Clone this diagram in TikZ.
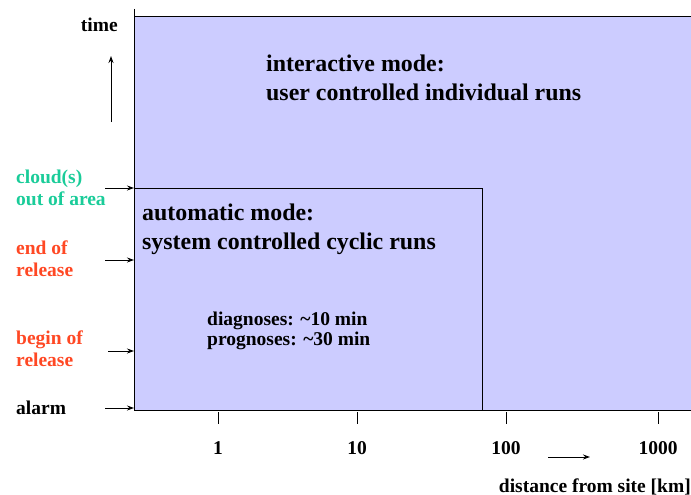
\documentclass[tikz,border=0pt]{standalone}
\usepackage{fontspec}
\setmainfont{Liberation Serif}
\usetikzlibrary{arrows.meta}
\definecolor{modefill}{RGB}{204,204,255}
\definecolor{cloudcol}{RGB}{26,204,153}
\definecolor{releasecol}{RGB}{255,72,36}
\begin{document}
\begin{tikzpicture}[x=1pt,y=-1pt,
  lbl/.style={font=\bfseries\fontsize{19.5}{22}\selectfont, inner sep=0pt, align=left},
  modetxt/.style={font=\bfseries\fontsize{23.9}{29}\selectfont, inner sep=0pt, align=left, anchor=north west},
  mark arrow/.style={-{Stealth[length=7pt,width=5pt]}, line width=0.9pt},
  tickline/.style={line width=0.8pt}]
\useasboundingbox (0,0) rectangle (691,495);
% interactive (outer) region, open to the right
\fill[modefill] (134,17) rectangle (691,410);
\draw[line width=1pt] (134,17) -- (691,17);
% automatic (inner) region
\draw[line width=1pt, fill=modefill] (134,410) -- (134,188) -- (482,188) -- (482,410);
% axes
\draw[line width=1pt] (134,9) coordinate (ytop) -- (134,410) coordinate (origin) -- (691,410);
% time axis arrow
\coordinate (ta0) at (111,122); \coordinate (ta1) at (111,56);
\draw[mark arrow, line width=1pt] (ta0) -- (ta1);
\node[lbl, anchor=east] (time) at (118,25) {time};
% event labels with arrows to the time axis
\node[lbl, anchor=west, text=cloudcol] (cloud) at (16,188) {cloud(s)\\out of area};
\node[lbl, anchor=west, text=releasecol] (endrel) at (16,259) {end of\\release};
\node[lbl, anchor=west, text=releasecol] (beginrel) at (16,349) {begin of\\release};
\node[lbl, anchor=west] (alarm) at (16,408) {alarm};
\coordinate (c0) at (105,188); \coordinate (c1) at (134,188);
\coordinate (e0) at (105,260); \coordinate (e1) at (134,260);
\coordinate (b0) at (108,351); \coordinate (b1) at (134,351);
\coordinate (a0) at (105,408); \coordinate (a1) at (134,408);
\draw[mark arrow] (c0) -- (c1);
\draw[mark arrow] (e0) -- (e1);
\draw[mark arrow] (b0) -- (b1);
\draw[mark arrow] (a0) -- (a1);
% distance ticks and labels
\foreach \xx/\tx [count=\i] in {218/1, 357/10, 506/100, 658/1000}{
  \draw[tickline] (\xx,412) -- (\xx,424);
  \node[lbl, anchor=base] (tick\i) at (\xx,454) {\tx};
}
\coordinate (da0) at (548,457); \coordinate (da1) at (590,457);
\draw[mark arrow, line width=1pt] (da0) -- (da1);
\node[lbl, anchor=base east] (dist) at (691,492) {distance from site [km]};
% mode descriptions
\node[modetxt] (inter) at (266,55) {interactive mode:\\user controlled individual runs};
\node[modetxt] (auto) at (142,204) {automatic mode:\\system controlled cyclic runs};
\node[lbl, anchor=north west, font=\bfseries\fontsize{19.5}{20}\selectfont] (cycles) at (207,312) {diagnoses: \textasciitilde10 min\\prognoses: \textasciitilde30 min};
\end{tikzpicture}
\end{document}
